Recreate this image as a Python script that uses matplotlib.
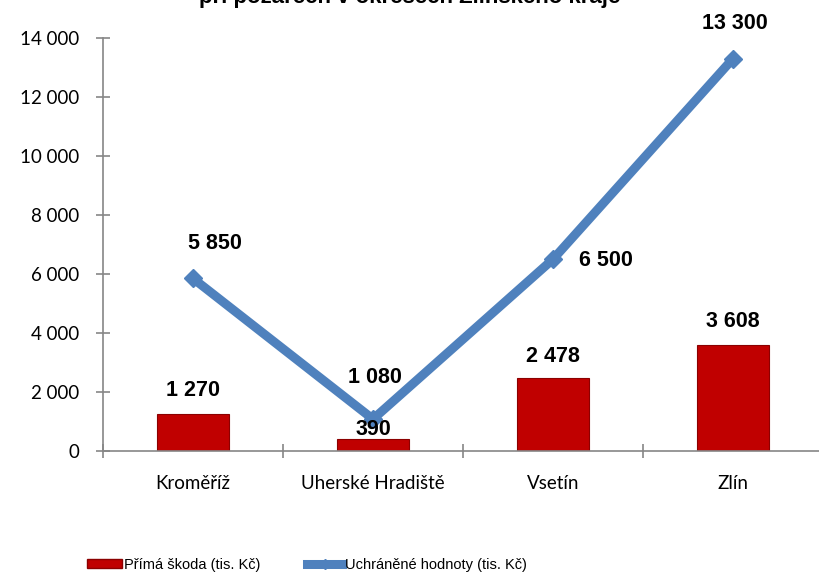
import numpy as np
import matplotlib.pyplot as plt
from matplotlib.lines import Line2D
from matplotlib.patches import Patch
from matplotlib.ticker import FuncFormatter

districts = ["Kroměříž", "Uherské Hradiště", "Vsetín", "Zlín"]
prima_skoda = [1270, 390, 2478, 3608]
uchranene = [5850, 1080, 6500, 13300]


def fmt(v, pos=None):
    return "{:,}".format(int(v)).replace(",", " ")


fig = plt.figure(figsize=[8.2, 5.74], dpi=100)
ax = fig.add_axes([103 / 820, 123 / 574, 720 / 820, 413 / 574])

x = np.arange(len(districts))
red = "#C00000"
blue = "#4F81BD"
grey = "#868686"

ax.bar(x, prima_skoda, width=0.405, color=red, edgecolor="#8B0000",
       linewidth=0.8, zorder=2)
ax.plot(x, uchranene, color=blue, linewidth=6.5, marker="D", markersize=9,
        markerfacecolor=blue, markeredgecolor=blue, zorder=3)

ax.set_xlim(-0.5, len(districts) - 0.5)
ax.set_ylim(0, 14000)
ax.set_yticks(np.arange(0, 14001, 2000))
ax.yaxis.set_major_formatter(FuncFormatter(fmt))
ax.set_xticks(x)
ax.set_xticklabels(districts)
ax.set_xticks(np.arange(-0.5, len(districts), 1), minor=True)

for s in ["top", "right"]:
    ax.spines[s].set_visible(False)
for s in ["left", "bottom"]:
    ax.spines[s].set_color(grey)
    ax.spines[s].set_linewidth(1.2)

ax.tick_params(axis="y", which="major", direction="inout", length=10,
               color=grey, width=1.2, labelsize=13.5, pad=12)
ax.tick_params(axis="x", which="major", length=0, labelsize=13.5, pad=17)
ax.tick_params(axis="x", which="minor", direction="inout", length=10,
               color=grey, width=1.2)
for lab in ax.get_xticklabels() + ax.get_yticklabels():
    lab.set_family("Lato")

lbl = dict(fontsize=15.5, fontweight="bold", family="Liberation Sans",
           ha="center", va="center")

offsets_bar = [(0, 23), (0, 10), (0, 21), (0, 23)]
for i, v in enumerate(prima_skoda):
    ax.annotate(fmt(v), (x[i], v), xytext=offsets_bar[i],
                textcoords="offset pixels", **lbl)

offsets_line = [(22, 35), (2, 42), (53, -1), (2, 35)]
for i, v in enumerate(uchranene):
    ax.annotate(fmt(v), (x[i], v), xytext=offsets_line[i],
                textcoords="offset pixels", **lbl)

fig.text(0.5, 1 - 3 / 574, "při požárech v okresech Zlínského kraje",
         ha="center", va="baseline", fontsize=16, fontweight="bold",
         family="Liberation Sans")

handles = [Patch(facecolor=red, edgecolor="#8B0000"),
           Line2D([0], [0], color=blue, linewidth=6.5, marker="D",
                  markersize=5, markerfacecolor=blue)]
labels = ["Přímá škoda (tis. Kč)", "Uchráněné hodnoty (tis. Kč)"]
fig.legend(handles, labels, loc="center left",
           bbox_to_anchor=(74 / 820, 1 - 565 / 574),
           ncol=2, frameon=False, handlelength=2.4, handleheight=0.6,
           handletextpad=0.15, columnspacing=3.2,
           prop={"family": "Liberation Sans", "size": 10.5})

fig.savefig("out.png", dpi=100)
